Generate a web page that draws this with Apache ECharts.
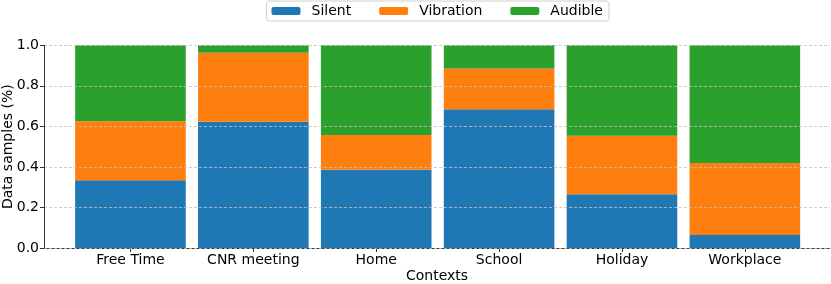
<!DOCTYPE html>
<html>
<head>
<meta charset="utf-8">
<script src="https://cdn.jsdelivr.net/npm/echarts@6/dist/echarts.min.js"></script>
<style>html,body{margin:0;padding:0;background:#fff}#c{width:831px;height:284px}</style>
</head>
<body>
<div id="c"></div>
<script>
const categories = ['Free Time', 'CNR meeting', 'Home', 'School', 'Holiday', 'Workplace'];
const silent    = [0.334, 0.623, 0.386, 0.684, 0.265, 0.064];
const vibration = [0.291, 0.340, 0.171, 0.202, 0.289, 0.355];
const audible   = [0.375, 0.037, 0.443, 0.114, 0.446, 0.581];
const yTicks = [0, 0.2, 0.4, 0.6, 0.8, 1.0];

const font = 'DejaVu Sans';
const fs = 14;
const chart = echarts.init(document.getElementById('c'), null, {renderer: 'canvas'});
const barBase = {type: 'bar', stack: 'total', xAxisIndex: 1, yAxisIndex: 1, barWidth: '90%', z: 2};
chart.setOption({
  animation: false,
  textStyle: {fontFamily: font},
  legend: {
    top: 1, left: 266.5,
    itemWidth: 29, itemHeight: 8, itemGap: 28,
    borderColor: '#d0d0d0', borderWidth: 1, borderRadius: 3,
    padding: [3, 6, 3, 5],
    textStyle: {fontFamily: font, fontSize: fs, color: '#000', padding: [0, 0, 0, 6]},
    data: ['Silent', 'Vibration', 'Audible']
  },
  grid: [
    {left: 44, right: 1, top: 45.3, bottom: 36, containLabel: false, outerBoundsMode: 'none'},
    {left: 69, right: 24.7, top: 45.3, bottom: 36, containLabel: false, outerBoundsMode: 'none'}
  ],
  xAxis: [
    {type: 'value', gridIndex: 0, min: 0, max: 1,
     axisLine: {show: true, lineStyle: {color: '#333', width: 1}},
     axisTick: {show: false}, axisLabel: {show: false}, splitLine: {show: false},
     name: 'Contexts', nameLocation: 'middle', nameGap: 21, nameMoveOverlap: false,
     nameTextStyle: {fontFamily: font, fontSize: fs, color: '#000'}},
    {type: 'category', gridIndex: 1, data: categories,
     axisLine: {show: false},
     axisTick: {show: true, alignWithLabel: true, length: 4, lineStyle: {color: '#333'}},
     axisLabel: {fontFamily: font, fontSize: fs, color: '#000', margin: 5},
     splitLine: {show: false}}
  ],
  yAxis: [
    {type: 'value', gridIndex: 0, min: 0, max: 1, interval: 0.2, z: 5,
     axisLine: {show: true, lineStyle: {color: '#333', width: 1}},
     axisTick: {show: true, length: 4, lineStyle: {color: '#333'}},
     axisLabel: {fontFamily: font, fontSize: fs, color: '#000', margin: 5,
       formatter: v => v.toFixed(1)},
     splitLine: {show: true, lineStyle: {color: '#c0c0c0', type: [3, 2], width: 0.8}},
     name: 'Data samples (%)', nameLocation: 'middle', nameRotate: 90, nameGap: 29,
     nameMoveOverlap: false,
     nameTextStyle: {fontFamily: font, fontSize: fs, color: '#000'}},
    {type: 'value', gridIndex: 1, min: 0, max: 1, show: false, splitLine: {show: false}}
  ],
  series: [
    Object.assign({}, barBase, {name: 'Silent', data: silent, itemStyle: {color: '#1f77b4'}}),
    Object.assign({}, barBase, {name: 'Vibration', data: vibration, itemStyle: {color: '#ff7f0e'}}),
    Object.assign({}, barBase, {name: 'Audible', data: audible, itemStyle: {color: '#2ca02c'}})
  ]
});
</script>
</body>
</html>
